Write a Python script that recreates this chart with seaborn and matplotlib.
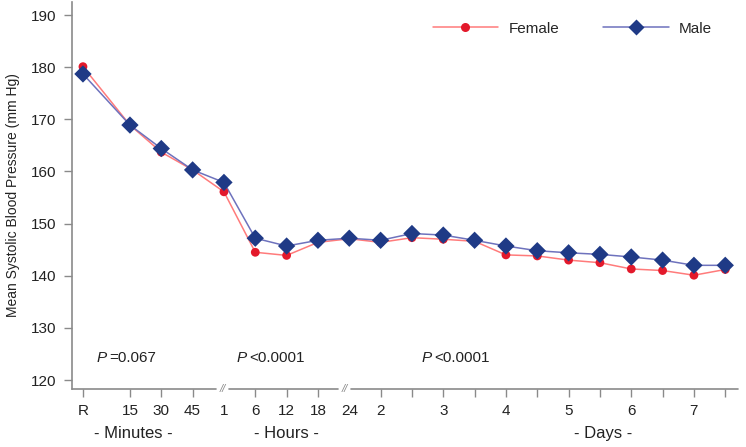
import numpy as np
import pandas as pd
import matplotlib
matplotlib.use("Agg")
import matplotlib.pyplot as plt
import seaborn as sns
from matplotlib.lines import Line2D

# time points (R = rest, then minutes, hours, days)
tick_labels = ["R", "15", "30", "45", "1", "6", "12", "18", "24", "2",
               "", "3", "", "4", "", "5", "", "6", "", "7", ""]
female_sbp = [180.1, 168.9, 163.7, 160.3, 156.1, 144.5, 143.9, 146.4, 147.1, 146.4,
              147.3, 147.0, 146.6, 144.0, 143.8, 143.0, 142.5, 141.3, 141.0, 140.1, 141.2]
male_sbp = [178.7, 168.9, 164.4, 160.3, 157.9, 147.2, 145.7, 146.8, 147.2, 146.8,
            148.1, 147.8, 146.8, 145.7, 144.8, 144.4, 144.1, 143.6, 143.0, 142.0, 142.0]
p_labels = ["=0.067", "<0.0001", "<0.0001"]
section_labels = ["- Minutes -", "- Hours -", "- Days -"]

# R sits a bit further left than the regular spacing
pos = np.arange(len(tick_labels), dtype=float)
pos[0] = -0.5

df = pd.DataFrame({
    "pos": np.concatenate([pos, pos]),
    "sbp": female_sbp + male_sbp,
    "sex": ["Female"] * len(pos) + ["Male"] * len(pos),
})

sns.set_style("white")
plt.rcParams["font.family"] = ["Liberation Sans", "DejaVu Sans"]

line_cols = {"Female": "#ff7b7b", "Male": "#6e72bd"}
mark_cols = {"Female": "#e3192b", "Male": "#1f3a86"}

fig = plt.figure(figsize=(7.46, 4.47), dpi=100)
ax = fig.add_axes([0.0965, 0.13, 0.8925, 0.8655])

sns.lineplot(data=df, x="pos", y="sbp", hue="sex", palette=line_cols,
             lw=1.1, legend=False, ax=ax, zorder=2)
sns.scatterplot(data=df[df.sex == "Female"], x="pos", y="sbp", color=mark_cols["Female"],
                marker="o", s=40, edgecolor="none", legend=False, ax=ax, zorder=3)
sns.scatterplot(data=df[df.sex == "Male"], x="pos", y="sbp", color=mark_cols["Male"],
                marker="D", s=78, edgecolor="none", legend=False, ax=ax, zorder=4)

ax.set_xlim(-0.85, 20.4)
ax.set_ylim(118.3, 192.5)
ax.set_yticks(range(120, 191, 10))
ax.set_xticks(pos)
ax.set_xticklabels(tick_labels)
ax.set_xlabel("")
ax.set_ylabel("Mean Systolic Blood Pressure (mm Hg)", fontsize=10, color="#222222", labelpad=8)

gray = "#8a8a8a"
for s in ["top", "right", "bottom"]:
    ax.spines[s].set_visible(False)
ax.spines["left"].set_color(gray)
ax.spines["left"].set_linewidth(1.2)
ax.tick_params(axis="both", direction="out", length=6, width=1, color=gray,
               labelsize=11, labelcolor="#222222", pad=5,
               bottom=True, left=True)

# broken x axis at 1 h and 24 h
breaks = [3.95, 7.85]
ax.xaxis.get_major_ticks()[4].tick1line.set_visible(False)
ax.xaxis.get_major_ticks()[8].tick1line.set_visible(False)
edges = [-0.85] + [v for b in breaks for v in (b - 0.2, b + 0.2)] + [20.4]
for a, b in zip(edges[::2], edges[1::2]):
    ax.plot([a, b], [0, 0], color=gray, lw=1.2, clip_on=False,
            transform=ax.get_xaxis_transform(), zorder=5)
for b in breaks:
    ax.text(b, 0, "//", transform=ax.get_xaxis_transform(), ha="center", va="center",
            fontsize=8, color=gray, style="italic")

# section captions below tick labels
for xc, txt in zip([1.1, 6.0, 16.1], section_labels):
    ax.text(xc, -0.115, txt, transform=ax.get_xaxis_transform(), ha="center", va="center",
            fontsize=12, color="#222222")

# p values
for xc, txt in zip([-0.07, 4.4, 10.3], p_labels):
    ax.text(xc, 124.3, "P", style="italic", fontsize=11, ha="left", va="center", color="#222222")
    ax.text(xc + 0.42, 124.3, txt, fontsize=11, ha="left", va="center", color="#222222")

handles = [
    Line2D([0], [0], color=line_cols["Female"], lw=1.1, marker="o", markersize=6.5,
           markerfacecolor=mark_cols["Female"], markeredgecolor="none"),
    Line2D([0], [0], color=line_cols["Male"], lw=1.1, marker="D", markersize=8,
           markerfacecolor=mark_cols["Male"], markeredgecolor="none"),
]
ax.legend(handles, ["Female", "Male"], ncol=2, frameon=False, loc="upper right",
          bbox_to_anchor=(0.982, 0.985), fontsize=11, handlelength=4.3, columnspacing=2.9,
          handletextpad=0.65)

fig.savefig("out.png", dpi=100)
